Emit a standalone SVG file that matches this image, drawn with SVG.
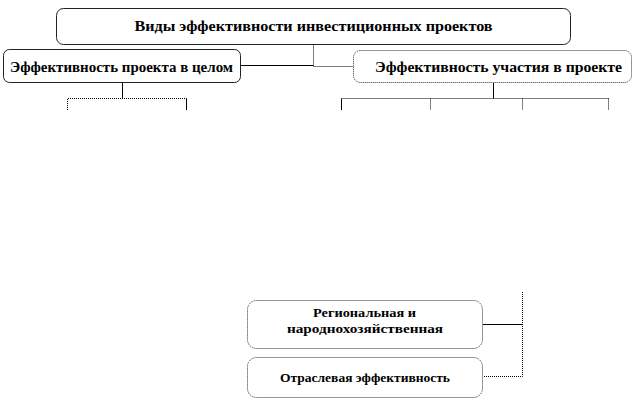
<svg xmlns="http://www.w3.org/2000/svg" width="641" height="407" viewBox="0 0 641 407">
<style>
.box{fill:#fff;stroke:#222;stroke-width:1}
.dbox{fill:#fff;stroke:#333;stroke-width:1;stroke-dasharray:1 1}
.t{font-family:"Liberation Serif","Times New Roman",serif;font-weight:bold;fill:#000;text-anchor:middle}
.s{fill:none;stroke:#000;stroke-width:1}
.d{fill:none;stroke:#000;stroke-width:1;stroke-dasharray:1 1}
</style>
<rect width="641" height="407" fill="#fff"/>
<g id="connectors">
<path class="s" d="M240.5 65.5H313.5"/>
<path class="d" d="M313.5 44.5V66.5H353"/>
<path class="s" d="M122.5 83V98.5"/>
<path class="d" d="M67.5 110V98.5H186.5"/>
<path class="s" d="M186.5 98.5V110"/>
<path class="s" d="M493.5 83V98.5"/>
<path class="d" d="M341.5 98.5H608.5"/>
<path class="s" d="M341.5 98.5V110"/>
<path class="d" d="M430.5 98.5V110"/>
<path class="d" d="M522.5 98.5V110"/>
<path class="d" d="M608.5 98.5V110"/>
<path class="d" d="M522.5 292V376.5H483"/>
<path class="s" d="M483 324.5H522.5"/>
</g>
<g id="top">
<rect class="box" x="56.5" y="8.5" width="514" height="36" rx="7"/>
<text class="t" x="313.5" y="31" font-size="14" textLength="358" lengthAdjust="spacingAndGlyphs">Виды эффективности инвестиционных проектов</text>
</g>
<g id="project">
<rect class="box" x="3.5" y="49.5" width="237" height="33" rx="6"/>
<text class="t" x="121.5" y="72" font-size="14" textLength="223" lengthAdjust="spacingAndGlyphs">Эффективность проекта в целом</text>
</g>
<g id="participation">
<rect class="dbox" x="353.5" y="50.5" width="278" height="32" rx="7"/>
<text class="t" x="498.5" y="72" font-size="14" textLength="247" lengthAdjust="spacingAndGlyphs">Эффективность участия в проекте</text>
</g>
<g id="regional">
<rect class="dbox" x="247.5" y="300.5" width="235" height="48" rx="9"/>
<text class="t" x="364.5" y="317" font-size="12" textLength="103" lengthAdjust="spacingAndGlyphs">Региональная и</text>
<text class="t" x="365" y="333" font-size="12" textLength="156" lengthAdjust="spacingAndGlyphs">народнохозяйственная</text>
</g>
<g id="sectoral">
<rect class="dbox" x="247.5" y="357.5" width="235" height="40" rx="9"/>
<text class="t" x="365" y="382" font-size="12" textLength="170" lengthAdjust="spacingAndGlyphs">Отраслевая эффективность</text>
</g>
</svg>
